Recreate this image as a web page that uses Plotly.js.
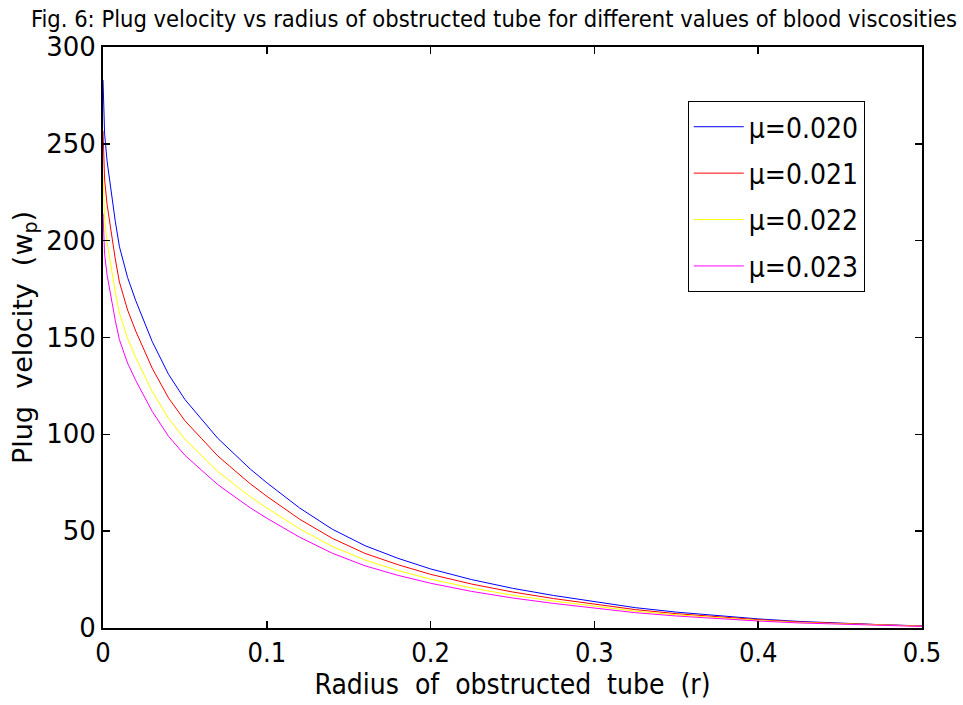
<!DOCTYPE html>
<html>
<head>
<meta charset="utf-8">
<script src="https://cdn.plot.ly/plotly-3.0.1.min.js"></script>
<style>html,body{margin:0;padding:0;background:#fff;}#chart{width:963px;height:705px;}</style>
</head>
<body>
<div id="chart"></div>
<script>
const radius = [0, 0.001, 0.0025, 0.005, 0.0075, 0.01, 0.015, 0.02, 0.03, 0.04, 0.05, 0.06, 0.07, 0.08, 0.09, 0.1, 0.12, 0.14, 0.16, 0.18, 0.2, 0.225, 0.25, 0.275, 0.3, 0.325, 0.35, 0.375, 0.4, 0.425, 0.45, 0.475, 0.5];
const mu020 = [283, 255, 241, 225, 210, 197, 181, 169, 148, 131, 118, 108, 98, 90, 82, 75, 62, 51, 42.5, 36, 30.5, 25, 20.5, 16.8, 13.5, 10.5, 8.2, 6.3, 4.7, 3.4, 2.5, 1.7, 1.1];
const mu021 = [256.7, 231.3, 218.6, 204.1, 190.5, 178.7, 164.2, 153.3, 134.2, 118.8, 107.0, 98.0, 88.9, 81.6, 74.4, 68.0, 56.2, 46.3, 38.5, 32.7, 27.7, 22.7, 18.6, 15.2, 12.2, 9.5, 7.4, 5.7, 4.3, 3.1, 2.3, 1.5, 1.0];
const mu022 = [233.8, 210.6, 199.1, 185.9, 173.5, 162.7, 149.5, 139.6, 122.2, 108.2, 97.5, 89.2, 80.9, 74.3, 67.7, 62.0, 51.2, 42.1, 35.1, 29.7, 25.2, 20.7, 16.9, 13.9, 11.2, 8.7, 6.8, 5.2, 3.9, 2.8, 2.1, 1.4, 0.9];
const mu023 = [214.0, 192.8, 182.2, 170.1, 158.8, 148.9, 136.8, 127.8, 111.9, 99.0, 89.2, 81.6, 74.1, 68.0, 62.0, 56.7, 46.9, 38.6, 32.1, 27.2, 23.1, 18.9, 15.5, 12.7, 10.2, 7.9, 6.2, 4.8, 3.6, 2.6, 1.9, 1.3, 0.8];
const seriesNames = ['\u03bc=0.020', '\u03bc=0.021', '\u03bc=0.022', '\u03bc=0.023'];
const seriesValues = [mu020, mu021, mu022, mu023];
const seriesColors = ['#0000ff', '#ff0000', '#ffff00', '#ff00ff'];
const xTicks = [0, 0.1, 0.2, 0.3, 0.4, 0.5];
const xTickText = ['0', '0.1', '0.2', '0.3', '0.4', '0.5'];
const yTicks = [0, 50, 100, 150, 200, 250, 300];

const traces = seriesValues.map((vals, i) => ({
  x: radius, y: vals, type: 'scatter', mode: 'lines', name: seriesNames[i],
  legendgroup: 'g' + i,
  line: {color: seriesColors[i], width: 1}
}));

const layout = {
  width: 963, height: 705,
  margin: {l: 103, r: 41, t: 47, b: 77},
  paper_bgcolor: '#fff', plot_bgcolor: '#fff',
  title: {
    text: 'Fig. 6: Plug velocity vs radius of obstructed tube for different values of blood viscosities',
    font: {family: 'DejaVu Sans Condensed, DejaVu Sans', size: 23.5, color: '#000'},
    xref: 'container', x: 0.513, xanchor: 'center',
    yref: 'container', y: 0.974, yanchor: 'middle'
  },
  xaxis: {
    range: [0, 0.5], tickvals: xTicks, ticktext: xTickText,
    ticks: 'inside', ticklen: 7, tickwidth: 1.5, tickcolor: '#000',
    showline: true, linecolor: '#000', linewidth: 2, mirror: 'ticks',
    showgrid: false, zeroline: false,
    tickfont: {family: 'DejaVu Sans Condensed, DejaVu Sans', size: 27, color: '#000'},
    title: {text: 'Radius  of  obstructed  tube  (r)', standoff: 4,
      font: {family: 'DejaVu Sans Condensed, DejaVu Sans', size: 28, color: '#000'}}
  },
  yaxis: {
    range: [0, 300], tickvals: yTicks,
    ticks: 'inside', ticklen: 7, tickwidth: 1.5, tickcolor: '#000',
    showline: true, linecolor: '#000', linewidth: 2, mirror: 'ticks',
    showgrid: false, zeroline: false,
    tickfont: {family: 'DejaVu Sans', size: 26, color: '#000'},
    title: {text: 'Plug  velocity  (w<sub>p</sub>)', standoff: 6,
      font: {family: 'DejaVu Sans', size: 27, color: '#000'}}
  },
  showlegend: true,
  legend: {
    x: 0.714, y: 0.907, xanchor: 'left', yanchor: 'top',
    bgcolor: '#fff', bordercolor: '#000', borderwidth: 1,
    font: {family: 'DejaVu Sans Condensed, DejaVu Sans', size: 28, color: '#000'},
    tracegroupgap: 7, itemwidth: 50
  }
};

Plotly.newPlot('chart', traces, layout, {displayModeBar: false, staticPlot: true});
</script>
</body>
</html>
